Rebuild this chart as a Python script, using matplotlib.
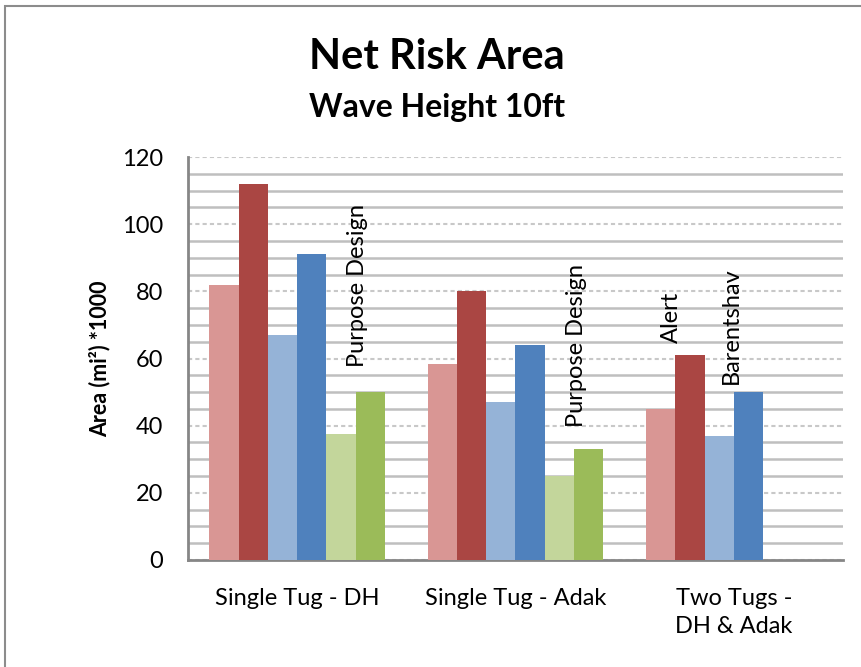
import numpy as np
import matplotlib
matplotlib.use("Agg")
import matplotlib.pyplot as plt
from matplotlib.patches import Rectangle

plt.rcParams['font.family'] = ['Lato', 'DejaVu Sans']

# data
categories = ['Single Tug - DH', 'Single Tug - Adak', 'Two Tugs -\nDH & Adak']
light_red = [82, 58.5, 45]
dark_red = [112, 80, 61]
light_blue = [67, 47, 37]
blue = [91, 64, 50]
light_green = [37.5, 25, np.nan]
green = [50, 33, np.nan]

series = [light_red, dark_red, light_blue, blue, light_green, green]
colors = ['#D99694', '#AA4643', '#95B3D7', '#4F81BD', '#C3D69B', '#9BBB59']

# rotated labels: (text, x, y)
labels = [('Purpose Design', 0.775, 57.5),
          ('Purpose Design', 1.78, 39.5),
          ('Alert', 2.215, 64.5),
          ('Barentshav', 2.49, 52.5)]

fig = plt.figure(figsize=(8.62, 6.67), dpi=100)
ax = fig.add_axes([188/862, 107/667, 655/862, 403/667])

# outer frame of the chart
fig.patches.append(Rectangle((5/862, -0.1), 1.2, (667-6)/667 + 0.1,
                             transform=fig.transFigure, fill=False,
                             edgecolor='#8C8C8C', linewidth=1.5))

x = np.arange(len(categories)) + 0.5
w = 0.134
for i, (vals, c) in enumerate(zip(series, colors)):
    ax.bar(x + (i - 2.5) * w, vals, width=w, color=c, zorder=3)

for txt, xx, yy in labels:
    ax.text(xx, yy, txt, rotation=90, ha='center', va='bottom', fontsize=17, zorder=4)

ax.set_xlim(0, 3)
ax.set_ylim(0, 120)
ax.set_yticks(np.arange(0, 121, 20))
ax.set_yticks(np.arange(0, 121, 5), minor=True)
ax.grid(axis='y', which='minor', color='#BFBFBF', linewidth=1.8, zorder=0)
ax.grid(axis='y', which='major', color='#C8C8C8', linewidth=1.5, linestyle=(0, (2, 1.5)), zorder=1)
ax.set_axisbelow(True)

ax.set_xticks(x)
ax.set_xticklabels(categories, fontsize=17, linespacing=1.45)
ax.tick_params(axis='x', length=0, pad=20)
ax.tick_params(axis='y', which='both', length=0, pad=18, labelsize=17)

for s in ['top', 'right']:
    ax.spines[s].set_visible(False)
for s in ['left', 'bottom']:
    ax.spines[s].set_color('#868686')
    ax.spines[s].set_linewidth(2)

ax.set_ylabel('Area (mi²) *1000', fontsize=15.5, fontweight='bold', labelpad=8)

fig.text(437/862, 1 - 57/667, 'Net Risk Area', ha='center', va='center', fontsize=30, fontweight='bold')
fig.text(437/862, 1 - 108/667, 'Wave Height 10ft', ha='center', va='center', fontsize=23, fontweight='bold')

fig.savefig('out.png', dpi=100)
